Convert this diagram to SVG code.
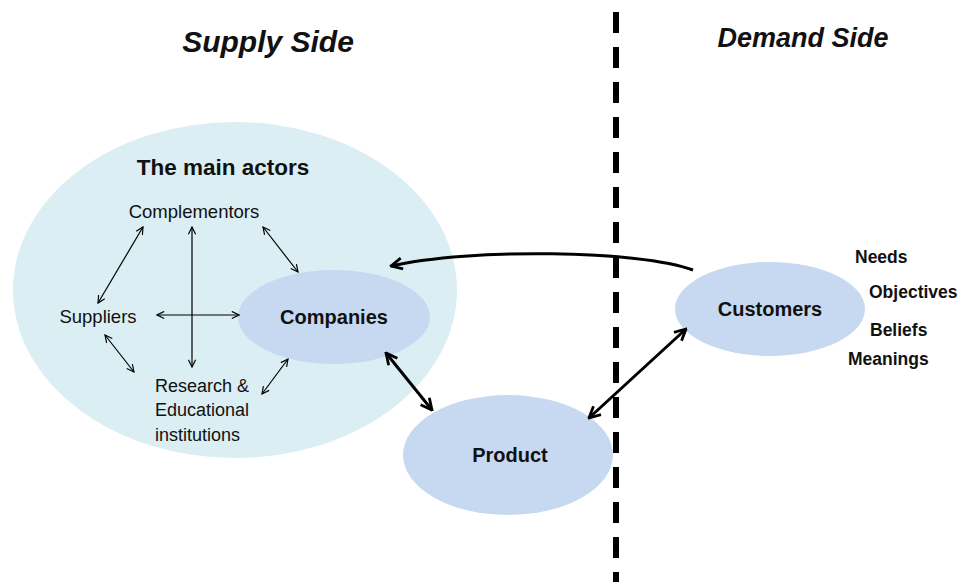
<svg xmlns="http://www.w3.org/2000/svg" width="961" height="582" viewBox="0 0 961 582">
<defs>
<marker id="thin" viewBox="0 0 10 10" refX="9" refY="5" markerWidth="9" markerHeight="9" markerUnits="userSpaceOnUse" orient="auto-start-reverse">
<path d="M1,1 L9,5 L1,9" fill="none" stroke="#000" stroke-width="1.3"/>
</marker>
<marker id="thick" viewBox="0 0 10 10" refX="9" refY="5" markerWidth="14" markerHeight="14" markerUnits="userSpaceOnUse" orient="auto-start-reverse">
<path d="M1,1 L9,5 L1,9" fill="none" stroke="#000" stroke-width="2"/>
</marker>
<style>
.t{font-family:"Liberation Sans","DejaVu Sans",sans-serif;fill:#111}
.b{font-weight:bold}
.thin{stroke:#000;stroke-width:1.2;fill:none;marker-start:url(#thin);marker-end:url(#thin)}
.thk{stroke:#000;stroke-width:3;fill:none;marker-end:url(#thick)}
.node{fill:#C6D9F1}
</style>
</defs>
<rect width="961" height="582" fill="#fff"/>
<g id="supply-area">
<ellipse cx="235" cy="290" rx="222" ry="168" fill="#DAEEF3"/>
<text class="t b" x="223" y="175" font-size="22.5" text-anchor="middle">The main actors</text>
</g>
<g id="divider">
<line x1="616" y1="12" x2="616" y2="582" stroke="#000" stroke-width="6" stroke-dasharray="21,14"/>
</g>
<g id="titles">
<text class="t b" x="268" y="52" font-size="30" font-style="italic" text-anchor="middle">Supply Side</text>
<text class="t b" x="803" y="47" font-size="27" font-style="italic" text-anchor="middle">Demand Side</text>
</g>
<g id="complementors"><text class="t" x="194" y="218" font-size="18.5" text-anchor="middle">Complementors</text></g>
<g id="suppliers"><text class="t" x="98" y="323" font-size="18.5" text-anchor="middle">Suppliers</text></g>
<g id="research">
<text class="t" x="155" y="392" font-size="18">Research &amp;</text>
<text class="t" x="155" y="416" font-size="18">Educational</text>
<text class="t" x="155" y="441" font-size="18">institutions</text>
</g>
<g id="companies">
<ellipse class="node" cx="334" cy="317" rx="96" ry="47"/>
<text class="t b" x="334" y="324" font-size="20" text-anchor="middle">Companies</text>
</g>
<g id="product">
<ellipse class="node" cx="508" cy="455" rx="105" ry="60"/>
<text class="t b" x="510" y="462" font-size="20" text-anchor="middle">Product</text>
</g>
<g id="customers">
<ellipse class="node" cx="770" cy="309" rx="95" ry="47"/>
<text class="t b" x="770" y="316" font-size="20" text-anchor="middle">Customers</text>
</g>
<g id="customer-attributes">
<text class="t b" x="855" y="263" font-size="17.5">Needs</text>
<text class="t b" x="869" y="298" font-size="17.5">Objectives</text>
<text class="t b" x="870" y="336" font-size="17.5">Beliefs</text>
<text class="t b" x="848" y="365" font-size="17.5">Meanings</text>
</g>
<g id="connectors">
<line class="thin" x1="143" y1="227" x2="98" y2="303"/>
<line class="thin" x1="192" y1="227" x2="192" y2="367"/>
<line class="thin" x1="157" y1="315" x2="239" y2="315"/>
<line class="thin" x1="263" y1="227" x2="298" y2="272"/>
<line class="thin" x1="105" y1="335" x2="134" y2="372"/>
<line class="thin" x1="262" y1="394" x2="288" y2="359"/>
<line class="thk" style="marker-start:url(#thick)" x1="386" y1="353" x2="432" y2="410"/>
<line class="thk" style="marker-start:url(#thick)" x1="589" y1="418" x2="686" y2="329"/>
<path class="thk" d="M693,270 C640,250 470,248 391,266"/>
</g>
</svg>
